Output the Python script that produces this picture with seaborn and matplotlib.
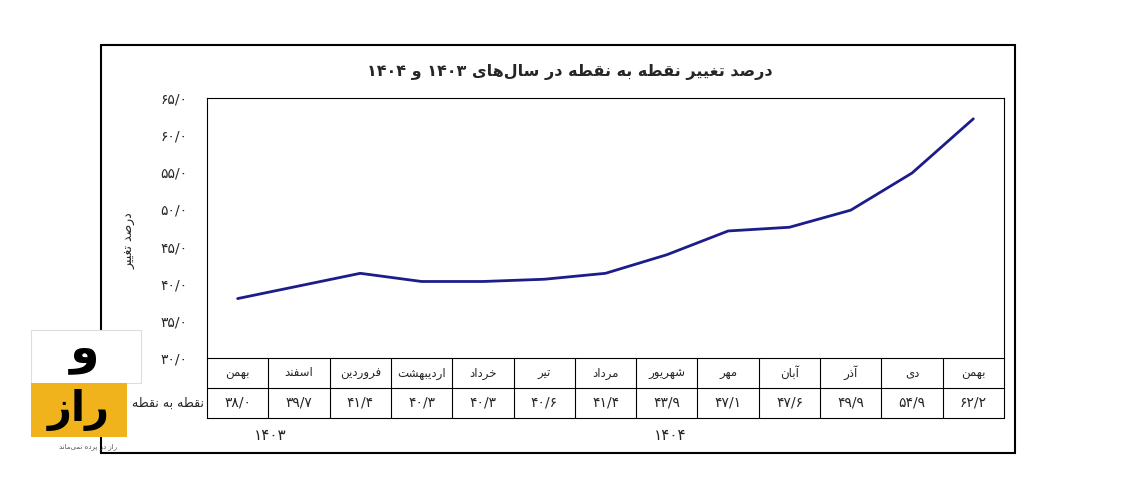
import re
import numpy as np
import pandas as pd
import seaborn as sns
from matplotlib import pyplot as plt
from matplotlib.patches import Rectangle
from matplotlib.lines import Line2D

sns.set_style("white")
plt.rcParams['font.family'] = ['DejaVu Sans']

months = ['بهمن', 'اسفند', 'فروردین', 'اردیبهشت', 'خرداد', 'تیر', 'مرداد',
          'شهریور', 'مهر', 'آبان', 'آذر', 'دی', 'بهمن']
values = [38.0, 39.7, 41.4, 40.3, 40.3, 40.6, 41.4, 43.9, 47.1, 47.6, 49.9, 54.9, 62.2]
yticks = [30, 35, 40, 45, 50, 55, 60, 65]
years = ['۱۴۰۳', '۱۴۰۴']

# presentation forms: (isolated, final, initial, medial); two-form letters do not join left
FORMS = {
    'ا': (0xFE8D, 0xFE8E), 'آ': (0xFE81, 0xFE82), 'د': (0xFEA9, 0xFEAA),
    'ذ': (0xFEAB, 0xFEAC), 'ر': (0xFEAD, 0xFEAE), 'ز': (0xFEAF, 0xFEB0),
    'و': (0xFEED, 0xFEEE), '\uFEFB': (0xFEFB, 0xFEFC), '\uFEF5': (0xFEF5, 0xFEF6),
    'ب': (0xFE8F, 0xFE90, 0xFE91, 0xFE92), 'پ': (0xFB56, 0xFB57, 0xFB58, 0xFB59),
    'ت': (0xFE95, 0xFE96, 0xFE97, 0xFE98), 'خ': (0xFEA5, 0xFEA6, 0xFEA7, 0xFEA8),
    'س': (0xFEB1, 0xFEB2, 0xFEB3, 0xFEB4), 'ش': (0xFEB5, 0xFEB6, 0xFEB7, 0xFEB8),
    'ص': (0xFEB9, 0xFEBA, 0xFEBB, 0xFEBC), 'ط': (0xFEC1, 0xFEC2, 0xFEC3, 0xFEC4),
    'غ': (0xFECD, 0xFECE, 0xFECF, 0xFED0), 'ف': (0xFED1, 0xFED2, 0xFED3, 0xFED4),
    'ق': (0xFED5, 0xFED6, 0xFED7, 0xFED8), 'ل': (0xFEDD, 0xFEDE, 0xFEDF, 0xFEE0),
    'م': (0xFEE1, 0xFEE2, 0xFEE3, 0xFEE4), 'ن': (0xFEE5, 0xFEE6, 0xFEE7, 0xFEE8),
    'ه': (0xFEE9, 0xFEEA, 0xFEEB, 0xFEEC), 'ی': (0xFBFC, 0xFBFD, 0xFBFE, 0xFBFF),
}


def fa(text):
    """shape persian text and put it in visual (left-to-right) order"""
    text = text.replace('لا', '\uFEFB').replace('لآ', '\uFEF5')
    out = []
    for i, c in enumerate(text):
        f = FORMS.get(c)
        if f is None:
            if c != '\u200c':
                out.append(c)
            continue
        prev = text[i - 1] if i > 0 else ''
        nxt = text[i + 1] if i + 1 < len(text) else ''
        jp = prev in FORMS and len(FORMS[prev]) == 4
        jn = len(f) == 4 and nxt in FORMS
        if jp and jn:
            k = 3
        elif jp:
            k = 1
        elif jn:
            k = 2
        else:
            k = 0
        out.append(chr(f[k]))
    s = ''.join(out)[::-1]
    return re.sub(r'[۰-۹/]+', lambda m: m.group()[::-1], s)


def fdig(v):
    return f"{v:.1f}".replace('.', '/').translate(str.maketrans('0123456789', '۰۱۲۳۴۵۶۷۸۹'))


df = pd.DataFrame({'x': np.arange(len(values)), 'y': values})

fig = plt.figure(figsize=(11.22, 4.92), dpi=100)
W, H = 1122, 492


def fx(px):
    return px / W


def fy(py):
    return 1 - py / H


# outer frame
fig.patches.append(Rectangle((fx(101), fy(453)), fx(914), 408 / H, transform=fig.transFigure,
                             fill=False, edgecolor='black', linewidth=1.5))

ax = fig.add_axes([fx(207), fy(358), fx(797), 260 / H])
sns.lineplot(data=df, x='x', y='y', ax=ax, color='#1c1c8a', linewidth=2)
ax.set_xlim(-0.5, len(values) - 0.5)
ax.set_ylim(30, 65)
ax.set_xticks([])
ax.set_yticks(yticks)
ax.set_yticklabels([fdig(v) for v in yticks], fontsize=10)
ax.tick_params(axis='y', length=0, pad=14)
ax.set_xlabel('')
ax.set_ylabel(fa('درصد تغییر'), rotation=90, fontsize=9)
ax.yaxis.set_label_coords(-0.088, 0.45)
for sp in ax.spines.values():
    sp.set_color('black')
    sp.set_linewidth(0.8)

fig.text(fx(570), fy(72), fa('درصد تغییر نقطه به نقطه در سال‌های ۱۴۰۳ و ۱۴۰۴'),
         ha='center', va='center', fontsize=11.5, fontweight='bold')

# table under the chart
tb = fig.add_axes([fx(207), fy(418), fx(797), 60 / H])
tb.set_xlim(-0.5, len(values) - 0.5)
tb.set_ylim(0, 2)
tb.axis('off')
tb.axhline(1, color='black', linewidth=0.8, clip_on=False)
tb.axhline(0, color='black', linewidth=0.8, clip_on=False)
for i in range(len(values) + 1):
    tb.axvline(i - 0.5, color='black', linewidth=0.8, clip_on=False)
for i, (m, v) in enumerate(zip(months, values)):
    tb.text(i, 1.5, fa(m), ha='center', va='center', fontsize=8.5)
    tb.text(i, 0.5, fdig(v), ha='center', va='center', fontsize=10)
fig.lines.append(Line2D([fx(140), fx(207)], [fy(388), fy(388)], color='black', linewidth=0.8))
fig.lines.append(Line2D([fx(140), fx(207)], [fy(418), fy(418)], color='black', linewidth=0.8))
fig.text(fx(204), fy(403), fa('نقطه به نقطه'), ha='right', va='center', fontsize=9)

fig.text(fx(270), fy(436), years[0], ha='center', va='center', fontsize=11)
fig.text(fx(670), fy(436), years[1], ha='center', va='center', fontsize=11)

# logo
fig.patches.append(Rectangle((fx(31), fy(383)), fx(110), 53 / H, transform=fig.transFigure,
                             facecolor='white', edgecolor='#dddddd', linewidth=0.8, zorder=5))
fig.patches.append(Rectangle((fx(31), fy(437)), fx(96), 54 / H, transform=fig.transFigure,
                             facecolor='#f0b31c', edgecolor='none', zorder=5))
fig.text(fx(85), fy(352), fa('و'), ha='center', va='center', fontsize=34,
         fontweight='bold', color='black', zorder=6)
fig.text(fx(79), fy(410), fa('راز'), ha='center', va='center', fontsize=30,
         fontweight='bold', color='black', zorder=6)
fig.text(fx(88), fy(447), fa('راز در پرده نمی‌ماند'), ha='center', va='center',
         fontsize=5, color='#555555', zorder=6)

fig.savefig('out.png', dpi=100)
